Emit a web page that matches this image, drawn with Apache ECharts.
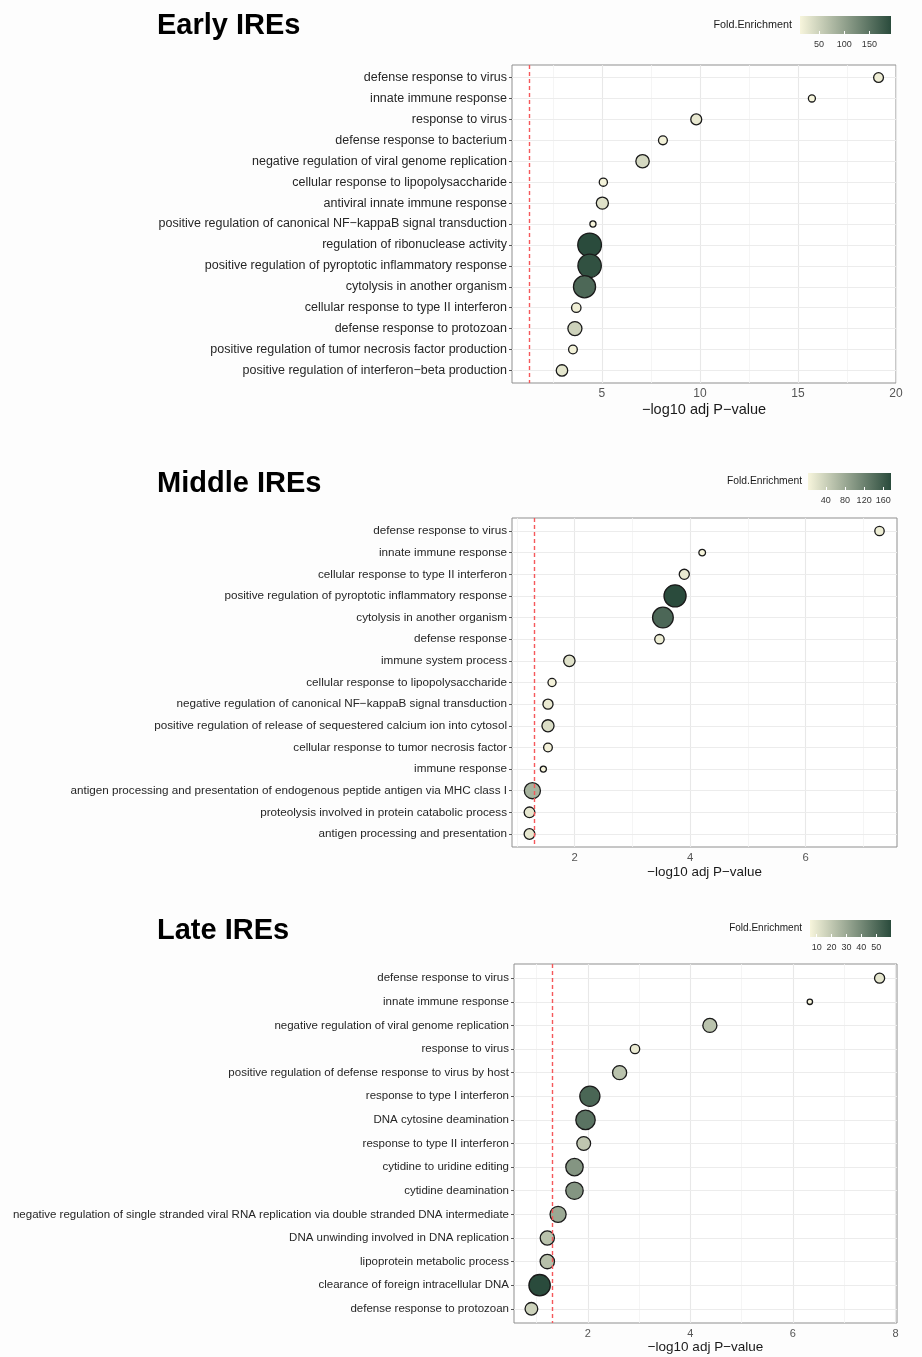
<!DOCTYPE html>
<html>
<head>
<meta charset="utf-8">
<title>IREs GO enrichment</title>
<script src="https://cdn.jsdelivr.net/npm/echarts@6/dist/echarts.min.js"></script>
<style>
  html, body { margin: 0; padding: 0; background: #fdfdfd; }
  #chart { width: 922px; height: 1357px; }
</style>
</head>
<body>
<div id="chart"></div>
<script>
// ---- data (top row first) ----
const earlyTerms = [
  'defense response to virus',
  'innate immune response',
  'response to virus',
  'defense response to bacterium',
  'negative regulation of viral genome replication',
  'cellular response to lipopolysaccharide',
  'antiviral innate immune response',
  'positive regulation of canonical NF\u2212kappaB signal transduction',
  'regulation of ribonuclease activity',
  'positive regulation of pyroptotic inflammatory response',
  'cytolysis in another organism',
  'cellular response to type II interferon',
  'defense response to protozoan',
  'positive regulation of tumor necrosis factor production',
  'positive regulation of interferon\u2212beta production'
];
const earlyLogP = [19.11, 15.71, 9.81, 8.11, 7.07, 5.07, 5.02, 4.54, 4.37, 4.37, 4.11, 3.69, 3.62, 3.52, 2.96];
const earlyFold = [20, 12.5, 25.5, 16.5, 43, 14.5, 33, 12, 193, 187, 162, 18.5, 49, 16, 28.5];
const earlyTicks = [5, 10, 15, 20];
const earlyMinor = [2.5, 7.5, 12.5, 17.5];
const earlyLegendTicks = [50, 100, 150];

const middleTerms = [
  'defense response to virus',
  'innate immune response',
  'cellular response to type II interferon',
  'positive regulation of pyroptotic inflammatory response',
  'cytolysis in another organism',
  'defense response',
  'immune system process',
  'cellular response to lipopolysaccharide',
  'negative regulation of canonical NF\u2212kappaB signal transduction',
  'positive regulation of release of sequestered calcium ion into cytosol',
  'cellular response to tumor necrosis factor',
  'immune response',
  'antigen processing and presentation of endogenous peptide antigen via MHC class I',
  'proteolysis involved in protein catabolic process',
  'antigen processing and presentation'
];
const middleLogP = [7.28, 4.21, 3.90, 3.74, 3.53, 3.47, 1.91, 1.61, 1.54, 1.54, 1.54, 1.46, 1.27, 1.22, 1.22];
const middleFold = [10.4, 3.2, 13.8, 176, 147, 10.4, 22, 5.7, 13.8, 27.3, 7.6, 3, 70.5, 17.3, 17.3];
const middleTicks = [2, 4, 6];
const middleMinor = [1, 3, 5, 7];
const middleLegendTicks = [40, 80, 120, 160];

const lateTerms = [
  'defense response to virus',
  'innate immune response',
  'negative regulation of viral genome replication',
  'response to virus',
  'positive regulation of defense response to virus by host',
  'response to type I interferon',
  'DNA cytosine deamination',
  'response to type II interferon',
  'cytidine to uridine editing',
  'cytidine deamination',
  'negative regulation of single stranded viral RNA replication via double stranded DNA intermediate',
  'DNA unwinding involved in DNA replication',
  'lipoprotein metabolic process',
  'clearance of foreign intracellular DNA',
  'defense response to protozoan'
];
const lateLogP = [7.69, 6.33, 4.38, 2.92, 2.62, 2.04, 1.955, 1.92, 1.74, 1.74, 1.42, 1.21, 1.21, 1.06, 0.90];
const lateFold = [10.2, 5.5, 21.6, 8.9, 21.6, 51.5, 47.2, 20.5, 36.2, 36.2, 29.9, 22, 22.5, 60, 16.8];
const lateTicks = [2, 4, 6, 8];
const lateMinor = [1, 3, 5, 7];
const lateLegendTicks = [10, 20, 30, 40, 50];

const cutoff = -Math.log10(0.05);

// ---- styles / layout ----
const font = '"Liberation Sans", Arial, Helvetica, sans-serif';
const lowColor = '#f7f5dc';
const highColor = '#2a4b3c';
const pointBorder = 1.3;

const panels = [
  {
    title: 'Early IREs', terms: earlyTerms, logP: earlyLogP, fold: earlyFold,
    ticks: earlyTicks, minor: earlyMinor, legendTicks: earlyLegendTicks,
    grid: {left: 512, top: 65, width: 384, height: 318}, titleTop: 11,
    legend: {left: 800, top: 16, width: 91, height: 18}, legendGap: 8,
    labelSize: 12.5, tickSize: 12, nameSize: 14.5, nameGap: 19, legendTitleSize: 10.8,
    sizeRange: [6.7, 24.3]
  },
  {
    title: 'Middle IREs', terms: middleTerms, logP: middleLogP, fold: middleFold,
    ticks: middleTicks, minor: middleMinor, legendTicks: middleLegendTicks,
    grid: {left: 512, top: 518, width: 385, height: 329}, titleTop: 469,
    legend: {left: 808, top: 473, width: 83, height: 17}, legendGap: 6,
    labelSize: 11.7, tickSize: 11.3, nameSize: 13.4, nameGap: 19, legendTitleSize: 10.3,
    sizeRange: [6.7, 22.7]
  },
  {
    title: 'Late IREs', terms: lateTerms, logP: lateLogP, fold: lateFold,
    ticks: lateTicks, minor: lateMinor, legendTicks: lateLegendTicks,
    grid: {left: 514, top: 964, width: 383, height: 359}, titleTop: 916,
    legend: {left: 810, top: 920, width: 81, height: 17}, legendGap: 8,
    labelSize: 11.5, tickSize: 11, nameSize: 13.5, nameGap: 17, legendTitleSize: 10,
    sizeRange: [6, 22]
  }
];

const option = {
  backgroundColor: '#fdfdfd',
  animation: false,
  title: [], grid: [], xAxis: [], yAxis: [], visualMap: [], series: []
};

panels.forEach(p => {
  const lo = Math.min(...p.fold);
  const hi = Math.max(...p.fold);
  // ggplot-like expansion: 5% on the continuous axis (cutoff line included), 0.6 rows on the discrete one
  const xs = p.logP.concat([cutoff]);
  const xmin = Math.min(...xs), xmax = Math.max(...xs);
  const pad = (xmax - xmin) * 0.05;
  const rows = p.terms.map((t, k) => k);

  const g = option.grid.length;   // main plot
  const l = g + 1;                // colour bar

  option.title.push({
    text: p.title, left: 157, top: p.titleTop, padding: 0,
    textStyle: {fontFamily: font, fontSize: 29, fontWeight: 'bold', color: '#000'}
  });

  option.grid.push(Object.assign({
    show: true, backgroundColor: '#ffffff', borderColor: '#8f8f8f', borderWidth: 1,
    containLabel: false, outerBoundsMode: 'none'
  }, p.grid));
  option.grid.push(Object.assign({containLabel: false, outerBoundsMode: 'none'}, p.legend));

  option.xAxis.push({
    gridIndex: g, type: 'value', min: xmin - pad, max: xmax + pad,
    name: '\u2212log10 adj P\u2212value', nameLocation: 'middle', nameGap: p.nameGap,
    nameTextStyle: {fontFamily: font, fontSize: p.nameSize, color: '#1a1a1a'},
    axisLine: {show: false}, splitLine: {show: false},
    axisTick: {length: 3, customValues: p.ticks, lineStyle: {color: '#555', width: 1}},
    axisLabel: {customValues: p.ticks, margin: 5, fontFamily: font, fontSize: p.tickSize, color: '#555'}
  });
  option.yAxis.push({
    gridIndex: g, type: 'value', inverse: true, min: -0.6, max: p.terms.length - 1 + 0.6,
    axisLine: {show: false}, splitLine: {show: false},
    axisTick: {length: 3, customValues: rows, lineStyle: {color: '#555', width: 1}},
    axisLabel: {
      customValues: rows, margin: 5, fontFamily: font, fontSize: p.labelSize, color: '#262626',
      formatter: v => p.terms[Math.round(v)]
    }
  });

  option.xAxis.push({
    gridIndex: l, type: 'value', min: lo, max: hi, z: 5,
    axisLine: {show: false}, splitLine: {show: false},
    axisTick: {inside: true, length: 3, customValues: p.legendTicks, lineStyle: {color: '#ffffff', width: 1}},
    axisLabel: {customValues: p.legendTicks, margin: 6, fontFamily: font, fontSize: 9, color: '#333'}
  });
  option.yAxis.push({
    gridIndex: l, type: 'value', min: 0, max: 1,
    name: 'Fold.Enrichment', nameLocation: 'middle', nameRotate: 0, nameGap: p.legendGap,
    nameTextStyle: {fontFamily: font, fontSize: p.legendTitleSize, color: '#1a1a1a'},
    axisLine: {show: false}, axisTick: {show: false}, axisLabel: {show: false}, splitLine: {show: false}
  });

  // grid lines
  const gridLines = []
    .concat(p.minor.map(v => ({xAxis: v, lineStyle: {color: '#f3f3f3', width: 0.8, type: 'solid'}})))
    .concat(p.ticks.map(v => ({xAxis: v, lineStyle: {color: '#e8e8e8', width: 1.1, type: 'solid'}})))
    .concat(rows.map(k => ({yAxis: k, lineStyle: {color: '#ececec', width: 1.1, type: 'solid'}})));
  option.series.push({
    type: 'line', xAxisIndex: g, yAxisIndex: g, data: [], silent: true, z: 1,
    markLine: {silent: true, z: 1, symbol: ['none', 'none'], label: {show: false}, emphasis: {disabled: true}, data: gridLines}
  });

  // points
  const scatterIndex = option.series.length;
  option.series.push({
    type: 'scatter', xAxisIndex: g, yAxisIndex: g, z: 3,
    data: p.logP.map((v, k) => [v, k, p.fold[k]]),
    symbolSize: val => {
      const t = (val[2] - lo) / (hi - lo);
      return p.sizeRange[0] + (p.sizeRange[1] - p.sizeRange[0]) * Math.sqrt(t) - 0.6;
    },
    itemStyle: {borderColor: '#1a1a1a', borderWidth: pointBorder, opacity: 1},
    emphasis: {disabled: true}
  });
  option.visualMap.push({
    type: 'continuous', show: false, seriesIndex: scatterIndex, dimension: 2,
    min: lo, max: hi, inRange: {color: [lowColor, highColor]}
  });

  // significance cutoff
  option.series.push({
    type: 'line', xAxisIndex: g, yAxisIndex: g, data: [], silent: true, z: 10,
    markLine: {
      silent: true, z: 10, symbol: ['none', 'none'], label: {show: false}, emphasis: {disabled: true},
      lineStyle: {color: '#f5585b', width: 1.4, type: [4, 3]},
      data: [{xAxis: cutoff}]
    }
  });

  // colour bar
  option.series.push({
    type: 'custom', xAxisIndex: l, yAxisIndex: l, z: 2, silent: true,
    data: [[lo, hi]],
    renderItem: (params, api) => {
      const a = api.coord([api.value(0), 0]);
      const b = api.coord([api.value(1), 1]);
      return {
        type: 'rect',
        shape: {x: a[0], y: b[1], width: b[0] - a[0], height: a[1] - b[1]},
        style: {
          fill: new echarts.graphic.LinearGradient(0, 0, 1, 0, [
            {offset: 0, color: lowColor}, {offset: 1, color: highColor}
          ])
        }
      };
    }
  });
});

const chart = echarts.init(document.getElementById('chart'));
chart.setOption(option);
</script>
</body>
</html>
